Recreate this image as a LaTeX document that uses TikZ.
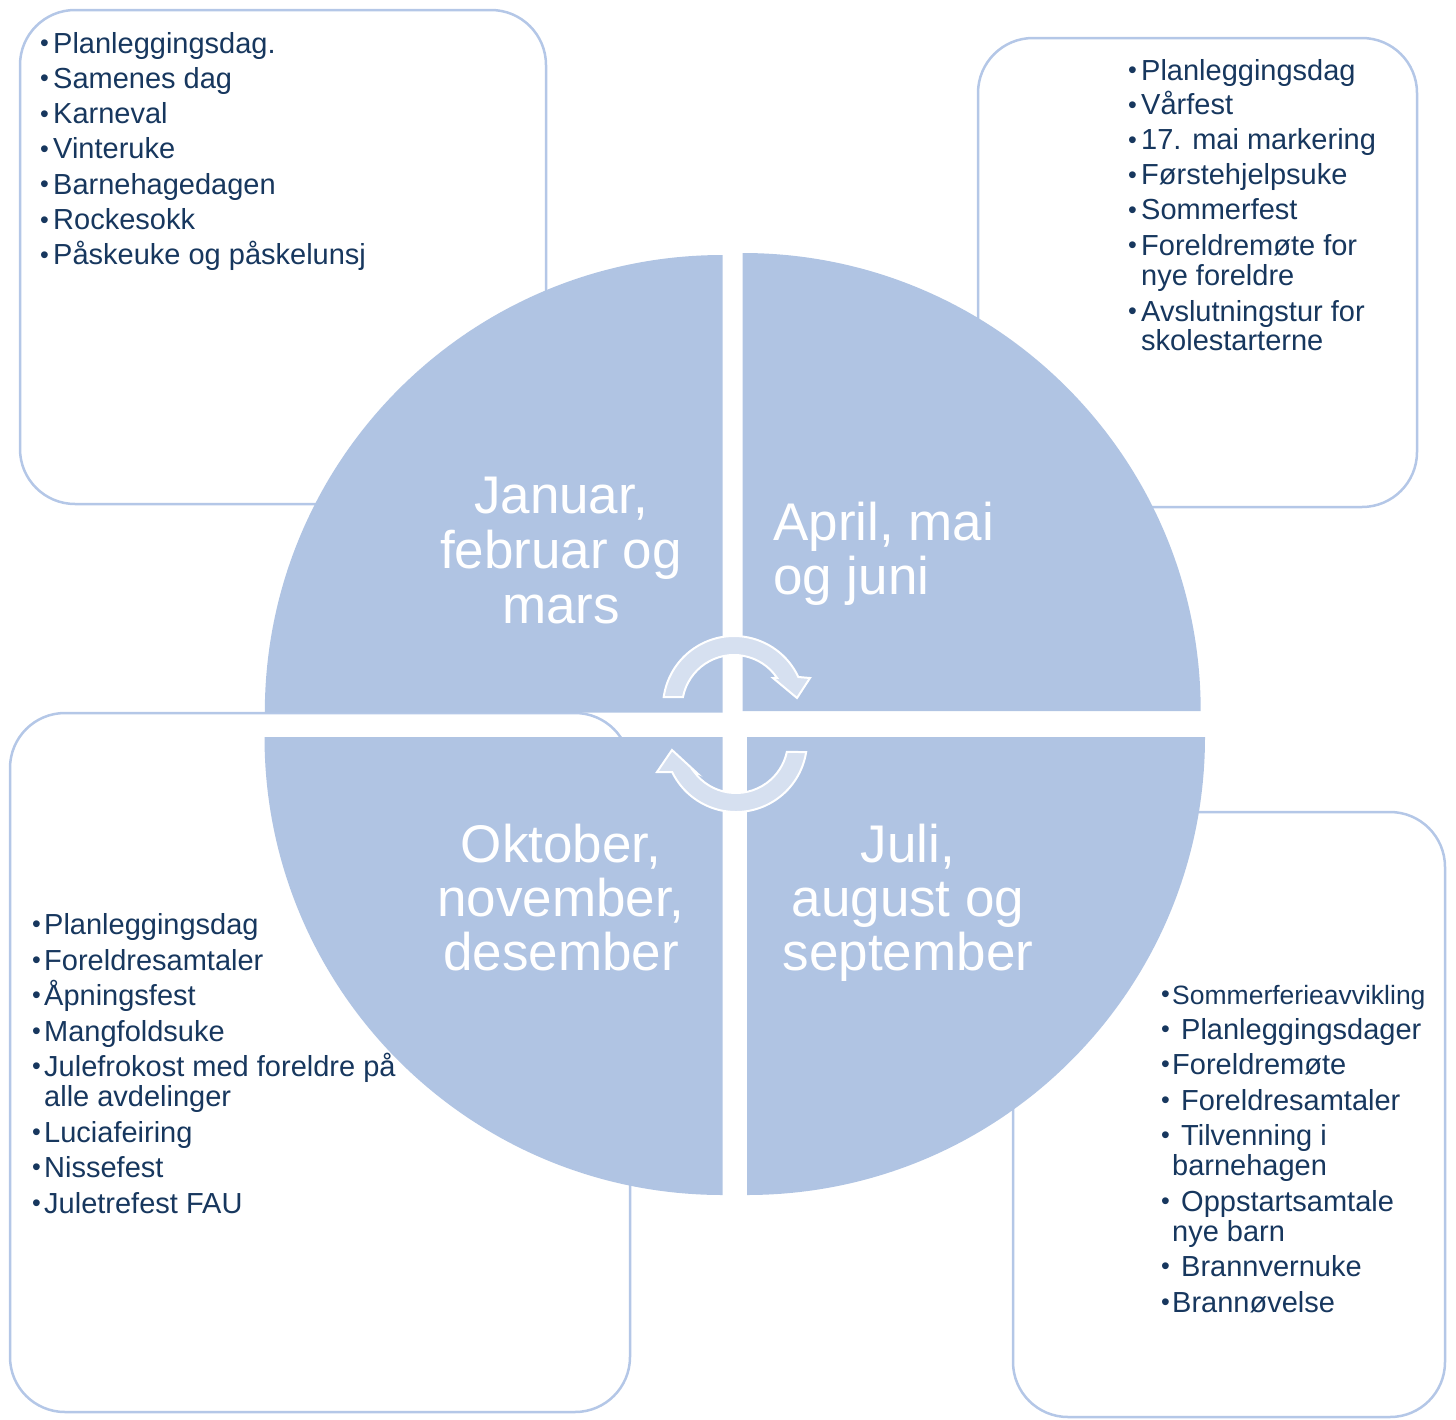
\documentclass[tikz,border=0pt]{standalone}
\usepackage{fontspec}
\setmainfont{Liberation Sans}
\definecolor{sector}{RGB}{176,196,227}
\definecolor{boxline}{RGB}{180,199,231}
\definecolor{arrowfill}{RGB}{214,224,240}
\definecolor{navy}{RGB}{23,55,94}
\newcommand\bul[1][13pt]{\makebox[#1][l]{\raisebox{1.5pt}{\fontsize{25}{25}\selectfont •}}}
\begin{document}
\begin{tikzpicture}[x=1pt,y=-1pt,
  panel/.style={draw=boxline, line width=2.5pt, fill=white, rounded corners=55pt},
  quarter/.style={fill=sector},
  item/.style={anchor=base west, inner sep=0pt, text=navy, font=\fontsize{29}{30}\selectfont},
  smallitem/.style={item, font=\fontsize{26.5}{28}\selectfont},
  month/.style={anchor=base, inner sep=0pt, text=white, font=\fontsize{53}{55}\selectfont},
  monthleft/.style={month, anchor=base west},
  cyclearrow/.style={fill=arrowfill, draw=white, line width=2pt, line join=miter}]

\useasboundingbox (0,0) rectangle (1456,1419);

% boxes
\draw[panel] (20,10) rectangle (546,504);
\draw[panel] (978,38) rectangle (1417,507);
\draw[panel] (10,713) rectangle (630,1412);
\draw[panel] (1013,812) rectangle (1445,1417);

% quarters
\fill[quarter] (722.5,712.7) -- (264.8,712.7) arc[start angle=180,end angle=270,radius=457.7] -- cycle;
\fill[quarter] (742.7,711) -- (742.7,253) arc[start angle=270,end angle=360,radius=458] -- cycle;
\fill[quarter] (722.5,737) -- (722.5,1195) arc[start angle=90,end angle=180,radius=458] -- cycle;
\fill[quarter] (747,737) -- (1205,737) arc[start angle=0,end angle=90,radius=458] -- cycle;

% cycle arrows
\filldraw[cyclearrow] ([shift={(188:71)}]734,707) arc[start angle=188,end angle=335,radius=71]
  -- (810,678) -- (797,698) -- (773,678) -- ([shift={(326:52)}]734,707)
  arc[start angle=326,end angle=191,radius=52] -- cycle;
\filldraw[cyclearrow] ([shift={(9:71)}]736,741) arc[start angle=9,end angle=154,radius=71]
  -- (657,772) -- (672,750) -- (697,773) -- ([shift={(144:52)}]736,741)
  arc[start angle=144,end angle=12,radius=52] -- cycle;

% month labels
\node[month] (jan1) at (561,513) {Januar,};
\node[month] (jan2) at (561,568) {februar og};
\node[month] (jan3) at (561,623) {mars};
\node[monthleft] (apr1) at (773,540) {April, mai};
\node[monthleft] (apr2) at (773,594) {og juni};
\node[month] (okt1) at (561,862) {Oktober,};
\node[month] (okt2) at (561,916) {november,};
\node[month] (okt3) at (561,970) {desember};
\node[month] (jul1) at (908,862) {Juli,};
\node[month] (jul2) at (908,916) {august og};
\node[month] (jul3) at (908,970) {september};

% top-left list
\foreach \t [count=\i] in {Planleggingsdag., Samenes dag, Karneval, Vinteruke, Barnehagedagen, Rockesokk, Påskeuke og påskelunsj}
  \node[item] (tl\i) at (40,53+35.3*\i-35.3) {\bul\t};

% top-right list
\node[item] (tr1) at (1128,80) {\bul Planleggingsdag};
\node[item] (tr2) at (1128,114.5) {\bul Vårfest};
\node[item] (tr3) at (1128,149.5) {\bul 17. mai markering};
\node[item] (tr4) at (1128,184.5) {\bul Førstehjelpsuke};
\node[item] (tr5) at (1128,219.5) {\bul Sommerfest};
\node[item] (tr6) at (1128,255) {\bul Foreldremøte for};
\node[item] (tr6b) at (1141,285) {nye foreldre};
\node[item] (tr7) at (1128,321) {\bul Avslutningstur for};
\node[item] (tr7b) at (1141,350) {skolestarterne};

% bottom-left list
\node[item] (bl1) at (32,934) {\bul[12pt]Planleggingsdag};
\node[item] (bl2) at (32,970) {\bul[12pt]Foreldresamtaler};
\node[item] (bl3) at (32,1005) {\bul[12pt]Åpningsfest};
\node[item] (bl4) at (32,1041) {\bul[12pt]Mangfoldsuke};
\node[item] (bl5) at (32,1076) {\bul[12pt]Julefrokost med foreldre på};
\node[item] (bl5b) at (44,1106) {alle avdelinger};
\node[item] (bl6) at (32,1142) {\bul[12pt]Luciafeiring};
\node[item] (bl7) at (32,1177) {\bul[12pt]Nissefest};
\node[item] (bl8) at (32,1213) {\bul[12pt]Juletrefest FAU};

% bottom-right list
\node[smallitem] (br1) at (1161,1004) {\bul[11pt]Sommerferieavvikling};
\node[item] (br2) at (1161,1039) {\bul[20pt]Planleggingsdager};
\node[item] (br3) at (1161,1074) {\bul[11pt]Foreldremøte};
\node[item] (br4) at (1161,1110) {\bul[20pt]Foreldresamtaler};
\node[item] (br5) at (1161,1145) {\bul[20pt]Tilvenning i};
\node[item] (br5b) at (1172,1175) {barnehagen};
\node[item] (br6) at (1161,1211) {\bul[20pt]Oppstartsamtale};
\node[item] (br6b) at (1172,1241) {nye barn};
\node[item] (br7) at (1161,1276) {\bul[20pt]Brannvernuke};
\node[item] (br8) at (1161,1312) {\bul[11pt]Brannøvelse};
\end{tikzpicture}
\end{document}
